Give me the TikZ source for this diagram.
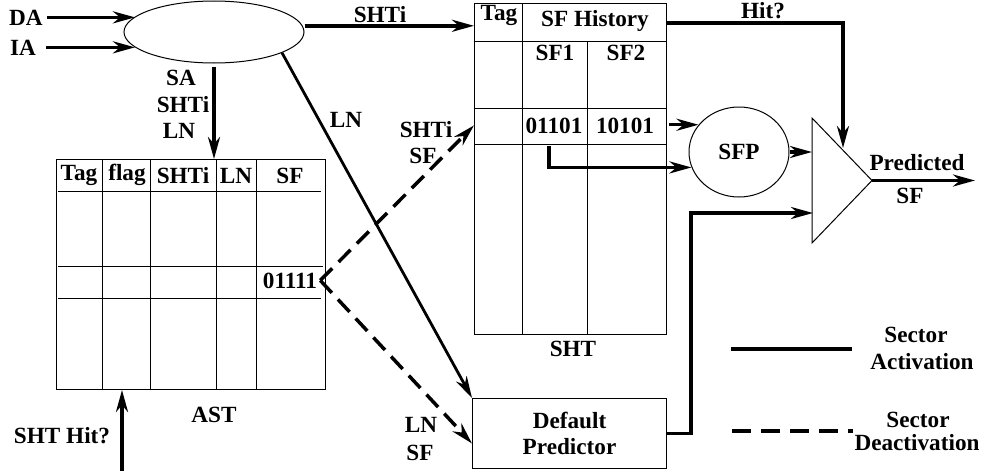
\documentclass[tikz,border=0pt]{standalone}
\usepackage{fontspec}
\setmainfont{Liberation Serif}
\usetikzlibrary{arrows.meta,shapes.geometric}
\begin{document}
\begin{tikzpicture}[x=1pt,y=-1pt,
  f/.style={font=\fontsize{23.2}{27}\selectfont\bfseries},
  lbl/.style={f, inner sep=0pt, anchor=base},
  thin/.style={line width=1pt},
  arr/.style={line width=3.5pt, -{Stealth[length=22pt,width=12pt,inset=7pt]}},
  dsh/.style={arr, dash pattern=on 17pt off 9pt},
  box/.style={draw, thin, inner sep=0pt, anchor=north west}]
\useasboundingbox (0,0) rectangle (993,471);

% hash ellipse and inputs
\node[draw, thin, ellipse, minimum width=180pt, minimum height=62pt, inner sep=0pt] (hash) at (214,32) {};
\node[lbl] (da) at (26,25) {DA};
\node[lbl] (ia) at (23,55) {IA};
\draw[arr] ([xshift=4pt]da.east) -- (da.east -| hash.169);
\draw[arr] ([xshift=10pt]ia.east) -- (ia.east -| hash.191);

% AST
\node[box, minimum width=269pt, minimum height=230pt] (ast) at (56,159) {};
\draw[thin] (58,191) -- (321,191);
\draw[thin] (58,266) -- (323,266);
\draw[thin] (58,298) -- (321,298);
\foreach \x in {102,150,216,256} \draw[thin] (\x,159) -- (\x,389);
\node[lbl] (hTag) at (79,180) {Tag};
\node[lbl] (hflag) at (127,180) {flag};
\node[lbl] (hSHTi) at (183,183) {SHTi};
\node[lbl] (hLN) at (236,183) {LN};
\node[lbl] (hSF) at (290,183) {SF};
\node[lbl] (v01111) at (290,288) {01111};
\node[lbl] (astlbl) at (214,422) {AST};
\node[lbl] (hitq) at (62,443) {SHT Hit?};
\coordinate (hitsrc) at (122,471);
\draw[arr] (hitsrc) -- (hitsrc |- ast.south);

% hash -> AST
\draw[arr] ([yshift=-3pt]hash.south) -- (hash.south |- ast.north);
\node[lbl] (sa1) at (181,85) {SA};
\node[lbl] (sa2) at (183,112) {SHTi};
\node[lbl] (sa3) at (179,138) {LN};

% SHT
\node[box, minimum width=192pt, minimum height=331pt] (sht) at (474,3) {};
\draw[thin] (474,41) -- (666,41);
\draw[thin] (474,108) -- (666,108);
\draw[thin] (474,144) -- (666,144);
\draw[thin] (522,3) -- (522,334);
\draw[thin] (587,41) -- (587,334);
\node[lbl] (sTag) at (499,20) {Tag};
\node[lbl] (sHist) at (595,27) {SF History};
\node[lbl] (sSF1) at (555,60) {SF1};
\node[lbl] (sSF2) at (626,60) {SF2};
\node[lbl] (v01101) at (554,133) {01101};
\node[lbl] (v10101) at (625,133) {10101};
\node[lbl] (shtlbl) at (573,356) {SHT};

% hash -> SHT
\draw[arr] ([xshift=2pt]hash.4) -- (hash.4 -| sht.west);
\node[lbl] (lshti) at (380,22) {SHTi};

% Default predictor
\node[draw, thin, f, minimum width=194pt, minimum height=70pt, anchor=north west, align=center, inner sep=0pt] (dp) at (472,398) {Default\\[-1pt]Predictor};

% LN line
\draw[arr, line width=2.8pt] (hash.-17) -- (dp.north west);
\node[lbl] (lln) at (346,127) {LN};

% dashed from AST
\draw[dsh] ([xshift=3pt]v01111.east) -- (sht.west |- v01101);
\draw[dsh] ([xshift=3pt]v01111.east) -- ([yshift=-10pt]dp.west);
\node[lbl] (d1) at (426,137) {SHTi};
\node[lbl] (d2) at (423,163) {SF};
\node[lbl] (d3) at (421,432) {LN};
\node[lbl] (d4) at (420,460) {SF};

% SFP
\node[draw, thin, f, ellipse, minimum width=100pt, minimum height=90pt, inner sep=0pt] (sfp) at (739,152) {SFP};
\draw[arr] ([xshift=2pt]sht.east |- sfp.146) -- (sfp.146);
\coordinate (sf1src) at (549,146);
\draw[arr] (sf1src) |- (sfp.198);

% triangle (selector)
\coordinate (ta) at (812,118);
\coordinate (tp) at (872,180.5);
\coordinate (tb) at (812,243);
\draw[thin] (ta) -- (tp) -- (tb) -- cycle;
\draw[arr] (sfp.east) -- (sfp.east -| ta);
\coordinate (hitin) at (843,148);
\draw[arr] ([yshift=-20pt]sht.north east) -| (hitin);
\node[lbl] (lhit) at (763,18) {Hit?};
\coordinate (tin2) at (813,213);
\draw[arr] (dp.east) -- ++(24,0) |- (tin2);
\coordinate (out) at (975,180.5);
\draw[arr] (tp) -- (out);
\node[lbl] (pred1) at (917,170) {Predicted};
\node[lbl] (pred2) at (910,203) {SF};

% legend
\coordinate (l1a) at (731,349);
\coordinate (l1b) at (852,349);
\draw[line width=3.5pt] (l1a) -- (l1b);
\coordinate (l2a) at (732,431);
\coordinate (l2b) at (853,431);
\draw[line width=3.5pt, dash pattern=on 19pt off 10pt] (l2a) -- (l2b);
\node[lbl] (g1) at (916,342) {Sector};
\node[lbl] (g2) at (922,369) {Activation};
\node[lbl] (g3) at (918,427) {Sector};
\node[lbl] (g4) at (917,450) {Deactivation};
\end{tikzpicture}
\end{document}
